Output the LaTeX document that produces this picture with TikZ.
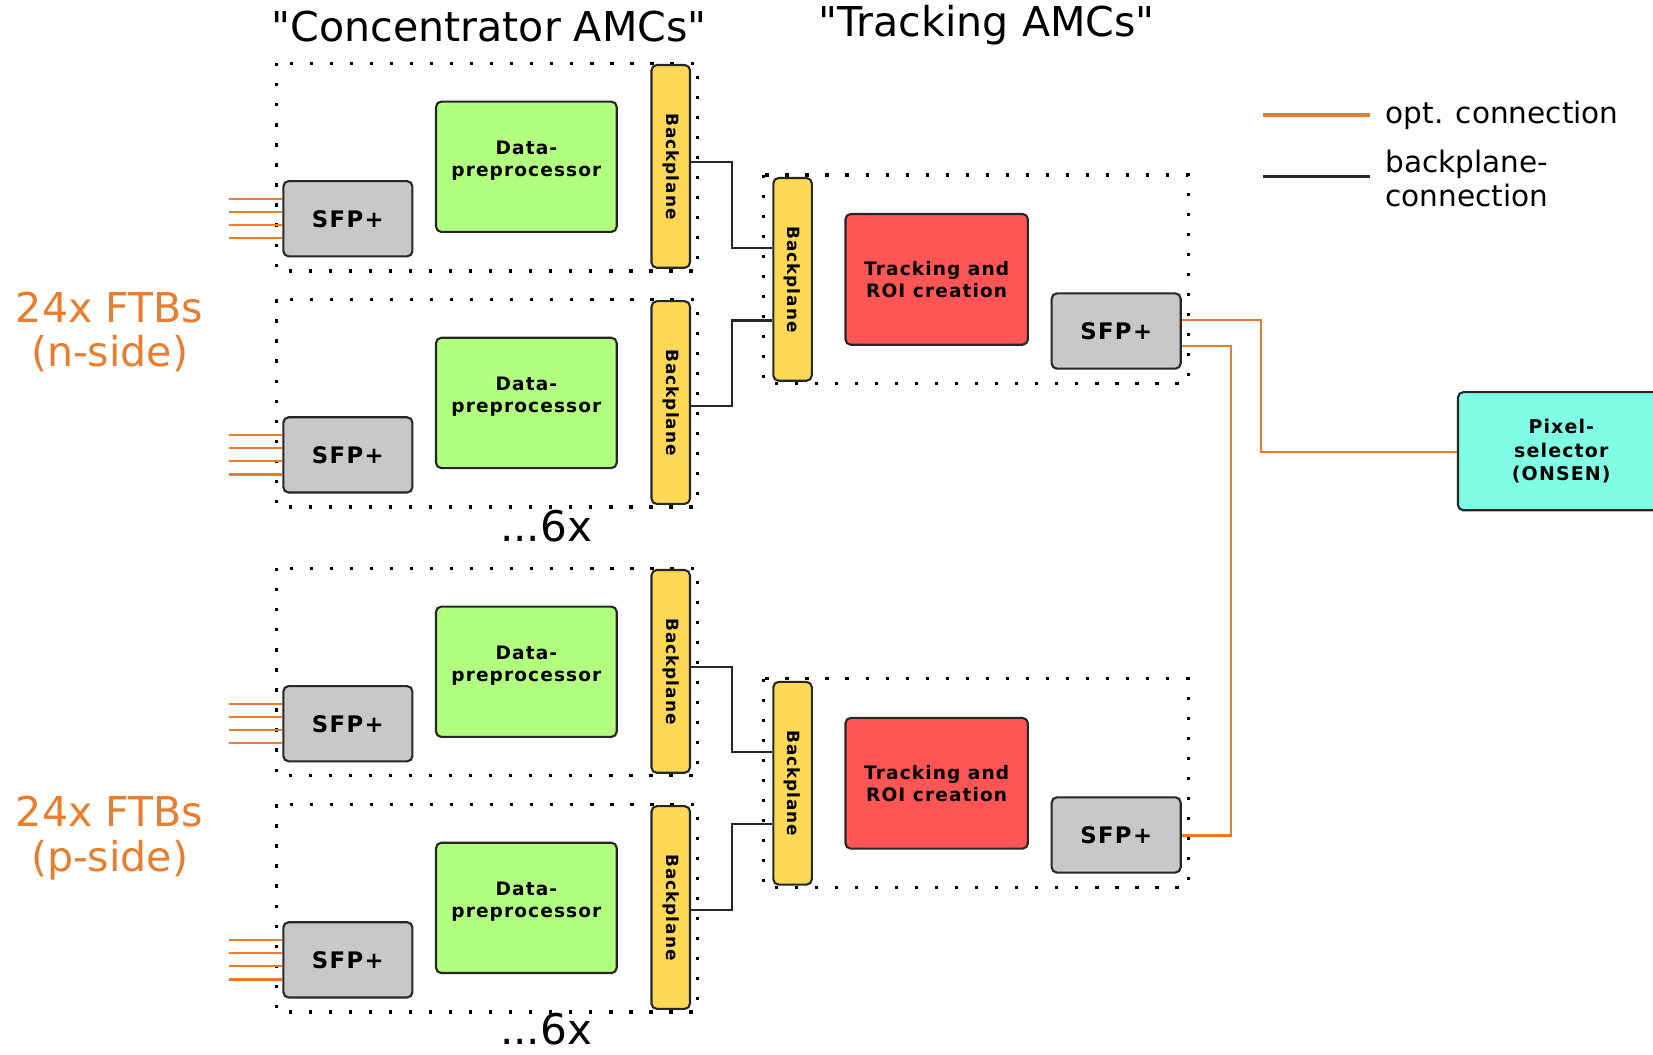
\documentclass[tikz,border=0pt]{standalone}
\usepackage{fontspec}
\setmainfont{DejaVu Sans}
\newfontfamily\plainfont{DejaVu Sans}
\newfontfamily\bxfont[LetterSpace=6]{DejaVu Sans}
\definecolor{cOrange}{RGB}{232,125,45}
\definecolor{cGray}{RGB}{200,200,200}
\definecolor{cGreen}{RGB}{178,255,128}
\definecolor{cRed}{RGB}{255,85,85}
\definecolor{cYellow}{RGB}{255,217,85}
\definecolor{cCyan}{RGB}{128,255,230}
\begin{document}
\begin{tikzpicture}[x=0.5pt,y=-0.5pt,
  blk/.style={draw=black!85, line width=1pt, rounded corners=2.5pt, inner sep=0pt, align=center},
  sfpbox/.style={blk, fill=cGray, minimum width=61.2pt, minimum height=35.7pt, font=\bxfont\bfseries\fontsize{10.8}{12}\selectfont},
  dpbox/.style={blk, fill=cGreen, minimum width=85.7pt, minimum height=61.8pt},
  dptext/.style={font=\bxfont\bfseries\fontsize{8.8}{10.5}\selectfont, align=center, inner sep=0pt},
  bpbox/.style={blk, fill=cYellow, minimum width=18.25pt, minimum height=96.15pt, font=\bxfont\bfseries\fontsize{8}{9}\selectfont},
  trbox/.style={blk, fill=cRed, minimum width=86.5pt, minimum height=62pt, font=\bxfont\bfseries\fontsize{8.8}{10.5}\selectfont},
  pixbox/.style={blk, fill=cCyan, minimum width=98pt, minimum height=56pt, font=\bxfont\bfseries\fontsize{9}{11}\selectfont},
  dotbox/.style={line width=1.5pt, dash pattern=on 1.5pt off 8pt},
  oline/.style={draw=cOrange, line width=1.1pt},
  bline/.style={draw=black!85, line width=1pt},
  bigtext/.style={font=\plainfont\fontsize{19.5}{21}\selectfont, inner sep=0pt},
  legtext/.style={font=\fontsize{14}{16}\selectfont, inner sep=0pt, anchor=west, align=left}
]
\useasboundingbox (0,0) rectangle (1568,1000);

% titles
\node[bigtext, anchor=base] (tconc) at (464,39) {"Concentrator AMCs"};
\node[bigtext, anchor=base] (ttrk) at (936,35) {"Tracking AMCs"};

% side labels
\node[bigtext, text=cOrange, align=center] (nside) at (104,315) {24x FTBs\\(n-side)};
\node[bigtext, text=cOrange, align=center] (pside) at (104,795) {24x FTBs\\(p-side)};

% concentrator AMCs
\foreach \i/\dy in {1/0, 2/224, 3/479, 4/703} {
  \draw[dotbox] (262,{60+\dy}) rectangle (662,{257+\dy});
  \node[sfpbox] (sfp\i) at (330,{207.5+\dy}) {SFP+};
  \node[dpbox] (dp\i) at (499.3,{158.2+\dy}) {};
  \node[dptext] (dpt\i) at ([yshift=3pt]dp\i.center) {Data-\\preprocessor};
  \node[bpbox] (bp\i) at (636.25,{157.85+\dy}) {\rotatebox{-90}{Backplane}};
  \foreach \k in {-18.6,-6.2,6.2,18.6}
    \draw[oline, line width=1pt] (sfp\i.west) ++(0,\k) -- ++(-51,0);
}
\node[font=\fontsize{20}{22}\selectfont, anchor=base, inner sep=0pt] (six1) at (518,514) {...6x};
\node[font=\fontsize{20}{22}\selectfont, anchor=base, inner sep=0pt] (six2) at (518,991) {...6x};

% tracking AMCs
\foreach \j/\dy in {1/0, 2/478} {
  \draw[dotbox] (724,{166+\dy}) rectangle (1127,{364+\dy});
  \node[bpbox] (bpt\j) at (751.8,{265+\dy}) {\rotatebox{-90}{Backplane}};
  \node[trbox] (tr\j) at (888.5,{265+\dy}) {Tracking and\\ROI creation};
  \node[sfpbox] (sfpt\j) at (1058.8,{314+\dy}) {SFP+};
}

% pixel selector
\node[pixbox] (pix) at (1481,428) {Pixel-\\selector\\(ONSEN)};

% backplane connections
\draw[bline] (bp1.east |- 0,154) -- (694,154) -- (694,235.5) -- (bpt1.west |- 0,235.5);
\draw[bline] (bp2.east |- 0,385) -- (694,385) -- (694,304) -- (bpt1.west |- 0,304);
\draw[bline] (bp3.east |- 0,633) -- (694,633) -- (694,713.5) -- (bpt2.west |- 0,713.5);
\draw[bline] (bp4.east |- 0,863) -- (694,863) -- (694,782) -- (bpt2.west |- 0,782);

% optical connections
\draw[oline] (sfpt1.east |- 0,303.5) -- (1196,303.5) -- (1196,428.5) -- (pix.west |- 0,428.5);
\draw[oline] (sfpt1.east |- 0,328) -- (1167.5,328) -- (1167.5,792.5) -- (sfpt2.east |- 0,792.5);

% legend
\node[legtext] (lopt) at (1314,109) {opt. connection};
\node[legtext] (lbp) at (1314,169) {backplane-\\connection};
\draw[oline, line width=1.6pt] (lopt.west) ++(-14,0) -- ++(-102,0);
\draw[bline, line width=1.6pt] (lbp.west) ++(-14,-1.5) -- ++(-102,0);
\end{tikzpicture}
\end{document}
